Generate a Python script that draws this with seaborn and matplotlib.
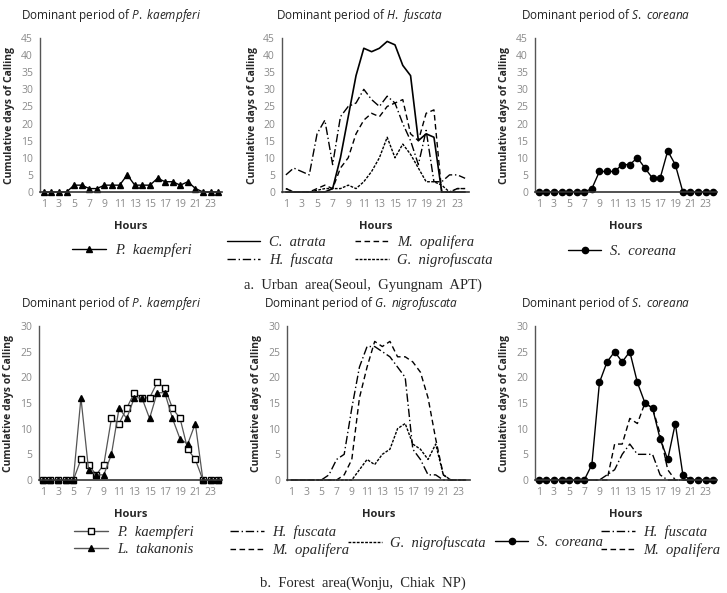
import numpy as np
import pandas as pd
import matplotlib
matplotlib.use("Agg")
import matplotlib.pyplot as plt
import seaborn as sns
from matplotlib.font_manager import FontProperties
from matplotlib.lines import Line2D

hours = list(range(1, 25))
xtick_labels = [1, 3, 5, 7, 9, 11, 13, 15, 17, 19, 21, 23]

# a. urban area
urban_kaempferi = [0, 0, 0, 0, 2, 2, 1, 1, 2, 2, 2, 5, 2, 2, 2, 4, 3, 3, 2, 3, 1, 0, 0, 0]
urban_atrata = [0, 0, 0, 0, 0, 0, 1, 10, 22, 34, 42, 41, 42, 44, 43, 37, 34, 15, 17, 16, 0, 0, 0, 0]
urban_fuscata = [5, 7, 6, 5, 17, 21, 8, 22, 25, 26, 30, 27, 25, 28, 26, 20, 15, 8, 18, 3, 3, 5, 5, 4]
urban_opalifera = [1, 0, 0, 0, 1, 2, 1, 7, 10, 17, 21, 23, 22, 25, 26, 27, 17, 15, 23, 24, 0, 0, 1, 1]
urban_nigro = [1, 0, 0, 0, 0.5, 1, 1, 1, 2, 1, 3, 6, 10, 16, 10, 14, 11, 7, 3, 3, 2, 0, 1, 1]
urban_coreana = [0, 0, 0, 0, 0, 0, 0, 1, 6, 6, 6, 8, 8, 10, 7, 4, 4, 12, 8, 0, 0, 0, 0, 0]

# b. forest area
forest_kaempferi = [0, 0, 0, 0, 0, 4, 3, 1, 3, 12, 11, 14, 17, 16, 16, 19, 18, 14, 12, 6, 4, 0, 0, 0]
forest_takanonis = [0, 0, 0, 0, 0, 16, 2, 1, 1, 5, 14, 12, 16, 16, 12, 17, 17, 12, 8, 7, 11, 0, 0, 0]
forest_fuscata = [0, 0, 0, 0, 0, 1, 4, 5, 14, 22, 26, 26, 25, 24, 22, 20, 6, 4, 1, 1, 0, 0, 0, 0]
forest_opalifera = [0, 0, 0, 0, 0, 0, 0, 1, 4, 16, 22, 27, 26, 27, 24, 24, 23, 21, 16, 8, 1, 0, 0, 0]
forest_nigro = [0, 0, 0, 0, 0, 0, 0, 0, 0, 2, 4, 3, 5, 6, 10, 11, 7, 6, 4, 7, 1, 0, 0, 0]
forest_coreana = [0, 0, 0, 0, 0, 0, 0, 3, 19, 23, 25, 23, 25, 19, 15, 14, 8, 4, 11, 1, 0, 0, 0, 0]
forest_fuscata2 = [0, 0, 0, 0, 0, 0, 0, 0, 0, 1, 2, 5, 7, 5, 5, 5, 1, 0, 0, 0, 0, 0, 0, 0]
forest_opalifera2 = [0, 0, 0, 0, 0, 0, 0, 0, 0, 0, 7, 7, 12, 11, 15, 14, 9, 2, 0, 0, 0, 0, 0, 0]

sns.set_style("white")
plt.rcParams["font.family"] = ["Open Sans", "DejaVu Sans"]
plt.rcParams["mathtext.fontset"] = "custom"
plt.rcParams["mathtext.rm"] = "Open Sans"
plt.rcParams["mathtext.it"] = "Open Sans:italic"

leg_font = FontProperties(family="Liberation Serif", style="italic", size=10.5)
cap_font = FontProperties(family="Liberation Serif", size=10.5)

SOLID = "-"
DASH = (0, (4, 2.5))
FINE = (0, (2, 1))
DASHDOT = (0, (6, 2, 1, 2))

W, H = 727, 593
fig = plt.figure(figsize=(W / 100, H / 100), dpi=100)


def px_axes(left, right, top, bottom):
    return fig.add_axes([left / W, 1 - bottom / H, (right - left) / W, (bottom - top) / H])


def style_ax(ax, ymax):
    ax.set_xlim(0.5, 24.5)
    ax.set_ylim(0, ymax)
    ax.set_xticks(xtick_labels)
    ax.set_yticks(range(0, ymax + 1, 5))
    ax.tick_params(length=0, labelsize=7.5, labelcolor="#8a8a8a", pad=5)
    for s in ["top", "right"]:
        ax.spines[s].set_visible(False)
    ax.spines["left"].set_color("#555555")
    ax.spines["bottom"].set_color("#333333")
    ax.spines["left"].set_linewidth(1)
    ax.spines["bottom"].set_linewidth(1.2)
    ax.set_xlabel("Hours", fontsize=8, fontweight="bold", labelpad=8)
    ax.set_ylabel("Cumulative days of Calling", fontsize=7.5, fontweight="bold", labelpad=4)
    if ax.get_legend() is not None:
        ax.get_legend().remove()


def draw(ax, y, ls=SOLID, marker=None, color="black", lw=1.0, ms=4, mfc="black"):
    df = pd.DataFrame({"Hour": hours, "Days": y})
    sns.lineplot(data=df, x="Hour", y="Days", ax=ax, color=color, linestyle=ls,
                 linewidth=lw, marker=marker, markersize=ms, markerfacecolor=mfc,
                 markeredgecolor="black", markeredgewidth=1, clip_on=False)


def handle(ls=SOLID, marker=None, color="black", ms=4, mfc="black"):
    return Line2D([], [], color=color, linestyle=ls, linewidth=1, marker=marker,
                  markersize=ms, markerfacecolor=mfc, markeredgecolor="black")


def legend(handles, labels, cx, cy, ncol=1):
    fig.legend(handles, labels, loc="center", bbox_to_anchor=(cx / W, 1 - cy / H),
               ncol=ncol, frameon=False, prop=leg_font, handlelength=2.3,
               handletextpad=0.6, columnspacing=1.5, labelspacing=0.25, borderpad=0)


def title(text, cx, cy):
    fig.text(cx / W, 1 - cy / H, text, ha="center", va="center", fontsize=8.5, color="#222222")


# ---- row a ----
ax = px_axes(40, 222, 38, 192)
draw(ax, urban_kaempferi, marker="^")
style_ax(ax, 45)
title(r"Dominant period of $\mathit{P.\ kaempferi}$", 111, 15)
legend([handle(marker="^")], ["P.  kaempferi"], 132, 250)

ax = px_axes(282, 469, 38, 192)
draw(ax, urban_atrata, ls=SOLID, lw=1.2)
draw(ax, urban_fuscata, ls=DASHDOT)
draw(ax, urban_opalifera, ls=DASH)
draw(ax, urban_nigro, ls=FINE)
style_ax(ax, 45)
title(r"Dominant period of $\mathit{H.\ fuscata}$", 359, 15)
legend([handle(SOLID), handle(DASHDOT), handle(DASH), handle(FINE)],
       ["C.  atrata", "H.  fuscata", "M.  opalifera", "G.  nigrofuscata"], 360, 251, ncol=2)

ax = px_axes(535, 717, 38, 192)
draw(ax, urban_coreana, marker="o", ms=4.5)
style_ax(ax, 45)
title(r"Dominant period of $\mathit{S.\ coreana}$", 606, 15)
legend([handle(marker="o", ms=4.5)], ["S.  coreana"], 622, 251)

fig.text(363 / W, 1 - 285 / H, "a.  Urban  area(Seoul,  Gyungnam  APT)", ha="center",
         va="center", fontproperties=cap_font)

# ---- row b ----
ax = px_axes(39, 222, 326, 480)
draw(ax, forest_kaempferi, marker="s", color="#555555", lw=0.9, ms=4.5, mfc="white")
draw(ax, forest_takanonis, marker="^", color="#555555", lw=0.9, ms=4.5)
style_ax(ax, 30)
title(r"Dominant period of $\mathit{P.\ kaempferi}$", 111, 304)
legend([handle(marker="s", color="#555555", ms=4.5, mfc="white"),
        handle(marker="^", color="#555555", ms=4.5)],
       ["P.  kaempferi", "L.  takanonis"], 134, 541)

ax = px_axes(287, 470, 326, 480)
draw(ax, forest_fuscata, ls=DASHDOT)
draw(ax, forest_opalifera, ls=DASH)
draw(ax, forest_nigro, ls=FINE)
style_ax(ax, 30)
title(r"Dominant period of $\mathit{G.\ nigrofuscata}$", 361, 304)
legend([handle(DASHDOT), handle(DASH)], ["H.  fuscata", "M.  opalifera"], 290, 541)
legend([handle(FINE)], ["G.  nigrofuscata"], 417, 543)

ax = px_axes(535, 717, 326, 480)
draw(ax, forest_coreana, marker="o", ms=4.5)
draw(ax, forest_fuscata2, ls=DASHDOT)
draw(ax, forest_opalifera2, ls=DASH)
style_ax(ax, 30)
title(r"Dominant period of $\mathit{S.\ coreana}$", 606, 304)
legend([handle(marker="o", ms=4.5)], ["S.  coreana"], 549, 542)
legend([handle(DASHDOT), handle(DASH)], ["H.  fuscata", "M.  opalifera"], 661, 541)

fig.text(363 / W, 1 - 583 / H, "b.  Forest  area(Wonju,  Chiak  NP)", ha="center",
         va="center", fontproperties=cap_font)

fig.savefig("out.png", dpi=100)
